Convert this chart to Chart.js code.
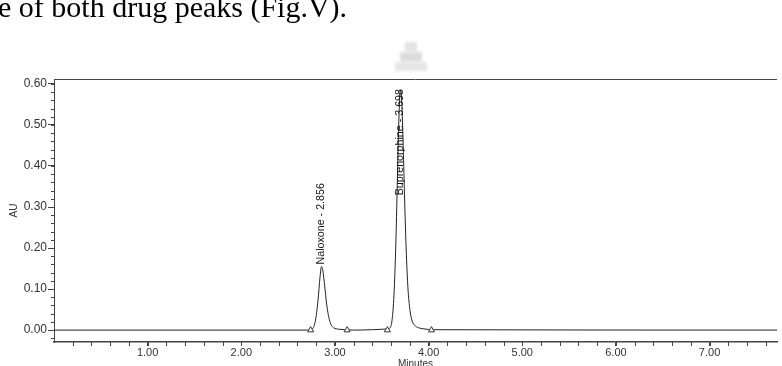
<!DOCTYPE html>
<html>
<head>
<meta charset="utf-8">
<script src="https://cdn.jsdelivr.net/npm/chart.js@4.4.1/dist/chart.umd.min.js"></script>
<style>
  body { margin: 0; background: #fff; }
  #wrap { position: relative; width: 782px; height: 366px; overflow: hidden; }
  #chart { position: absolute; left: 0; top: 0; }
  .caption {
    position: absolute; left: -2px; top: -10px; white-space: nowrap;
    font-family: "Liberation Serif", "Times New Roman", serif; font-size: 30px; color: #000;
  }
  .blob { position: absolute; background: #d9d9d9; filter: blur(1.5px); }
</style>
</head>
<body>
<div id="wrap">
  <canvas id="chart" width="782" height="366"></canvas>
  <div class="caption">e of both drug peaks (Fig.V).</div>
  <div class="blob" style="left:405px;top:42px;width:12px;height:10px;background:#e3e3e3"></div>
  <div class="blob" style="left:400px;top:52px;width:22px;height:10px;background:#dcdcdc"></div>
  <div class="blob" style="left:395px;top:62px;width:32px;height:9px;background:#e6e6e6"></div>
</div>
<script>
/* DATA */
const traceTime = [0.00, 2.70, 2.74, 2.76, 2.78, 2.80, 2.82, 2.84, 2.856, 2.87, 2.89, 2.91, 2.93, 2.95, 2.97, 3.00, 3.05, 3.10, 3.20,
  3.40, 3.50, 3.56, 3.59, 3.61, 3.63, 3.65, 3.67, 3.685, 3.698, 3.71, 3.725, 3.74, 3.76, 3.78, 3.80, 3.82, 3.85, 3.89, 3.95, 4.05, 7.72];
const traceAU = [0.000, 0.000, 0.001, 0.003, 0.012, 0.035, 0.075, 0.128, 0.155, 0.146, 0.108, 0.066, 0.036, 0.018, 0.009, 0.004, 0.002, 0.001, 0.000,
  0.001, 0.002, 0.003, 0.006, 0.025, 0.085, 0.210, 0.400, 0.530, 0.585, 0.570, 0.480, 0.350, 0.200, 0.100, 0.050, 0.025, 0.012, 0.006, 0.003, 0.001, 0.000];

const peakNames = ["Naloxone", "Buprenorphine"];
const peakTimes = [2.856, 3.698];
const peakHeights = [0.155, 0.585];

const markTimes = [2.74, 3.13, 3.56, 4.03];
const markAU = [0, 0, 0, 0];

const xTicks = [1, 2, 3, 4, 5, 6, 7];
const yTicks = [0, 0.1, 0.2, 0.3, 0.4, 0.5, 0.6];

/* HELPERS */
const pts = (xs, ys) => xs.map((x, i) => ({ x, y: ys[i] }));
const AX = "#444";

/* PLUGIN: frame, minor ticks, peak labels */
const extras = {
  id: "extras",
  afterDraw(chart) {
    const { ctx, chartArea: a, scales: { x, y } } = chart;
    ctx.save();
    ctx.strokeStyle = AX;
    ctx.lineWidth = 1;
    ctx.beginPath();
    ctx.moveTo(a.left, a.top + 0.5);
    ctx.lineTo(a.right, a.top + 0.5);
    ctx.stroke();

    // minor ticks
    ctx.beginPath();
    for (let v = 0.2; v < x.max; v += 0.2) {
      const px = Math.round(x.getPixelForValue(v)) + 0.5;
      ctx.moveTo(px, a.bottom);
      ctx.lineTo(px, a.bottom + 4);
    }
    for (let v = -0.02; v < y.max; v += 0.02) {
      const py = Math.round(y.getPixelForValue(v)) + 0.5;
      ctx.moveTo(a.left - 3, py);
      ctx.lineTo(a.left, py);
    }
    ctx.stroke();

    // peak labels
    ctx.fillStyle = "#111";
    ctx.font = "10.7px 'Liberation Sans', Arial, sans-serif";
    ctx.textBaseline = "middle";
    ctx.textAlign = "left";
    peakNames.forEach((n, i) => {
      const txt = n + " - " + peakTimes[i].toFixed(3);
      const w = ctx.measureText(txt).width;
      const px = x.getPixelForValue(peakTimes[i]);
      let start = y.getPixelForValue(peakHeights[i]) - 2;
      if (start - w < a.top + 10) start = a.top + 10 + w;
      ctx.save();
      ctx.translate(px, start);
      ctx.rotate(-Math.PI / 2);
      ctx.fillText(txt, 0, 0);
      ctx.restore();
    });
    ctx.restore();
  }
};

/* CHART */
new Chart(document.getElementById("chart"), {
  type: "line",
  data: {
    datasets: [
      {
        data: pts(markTimes, markAU),
        showLine: false,
        pointStyle: "triangle",
        pointRadius: 3.5,
        pointBackgroundColor: "#fff",
        pointBorderColor: "#333",
        pointBorderWidth: 1
      },
      {
        data: pts(traceTime, traceAU),
        borderColor: "#222",
        borderWidth: 1,
        pointRadius: 0,
        cubicInterpolationMode: "monotone",
        fill: false
      }
    ]
  },
  options: {
    responsive: false,
    animation: false,
    devicePixelRatio: 1,
    layout: { padding: { top: 79, right: 0, left: 0, bottom: 0 } },
    plugins: { legend: { display: false }, tooltip: { enabled: false } },
    scales: {
      x: {
        type: "linear",
        min: 0,
        max: 7.72,
        afterFit: s => { s.height = 24; },
        afterBuildTicks: s => { s.ticks = xTicks.map(v => ({ value: v })); },
        grid: { drawOnChartArea: false, tickLength: 4, color: AX },
        border: { color: AX, width: 1.5 },
        ticks: {
          padding: 0,
          maxRotation: 0,
          color: "#333",
          font: { family: "'Liberation Sans', Arial", size: 11 },
          callback: v => v.toFixed(2)
        },
        title: {
          display: true,
          text: "Minutes",
          color: "#333",
          font: { family: "'Liberation Sans', Arial", size: 10 },
          padding: { top: 0, bottom: -4 }
        }
      },
      y: {
        type: "linear",
        min: -0.029,
        max: 0.612,
        afterFit: s => { s.width = 54; },
        afterBuildTicks: s => { s.ticks = yTicks.map(v => ({ value: v })); },
        grid: { drawOnChartArea: false, tickLength: 6, color: AX },
        border: { color: AX, width: 1 },
        ticks: {
          padding: 1,
          color: "#333",
          font: { family: "'Liberation Sans', Arial", size: 12 },
          callback: v => v.toFixed(2)
        },
        title: {
          display: true,
          text: "AU",
          color: "#333",
          font: { family: "'Liberation Sans', Arial", size: 10 },
          padding: { top: 8, bottom: 0 }
        }
      }
    }
  },
  plugins: [extras]
});
</script>
</body>
</html>
